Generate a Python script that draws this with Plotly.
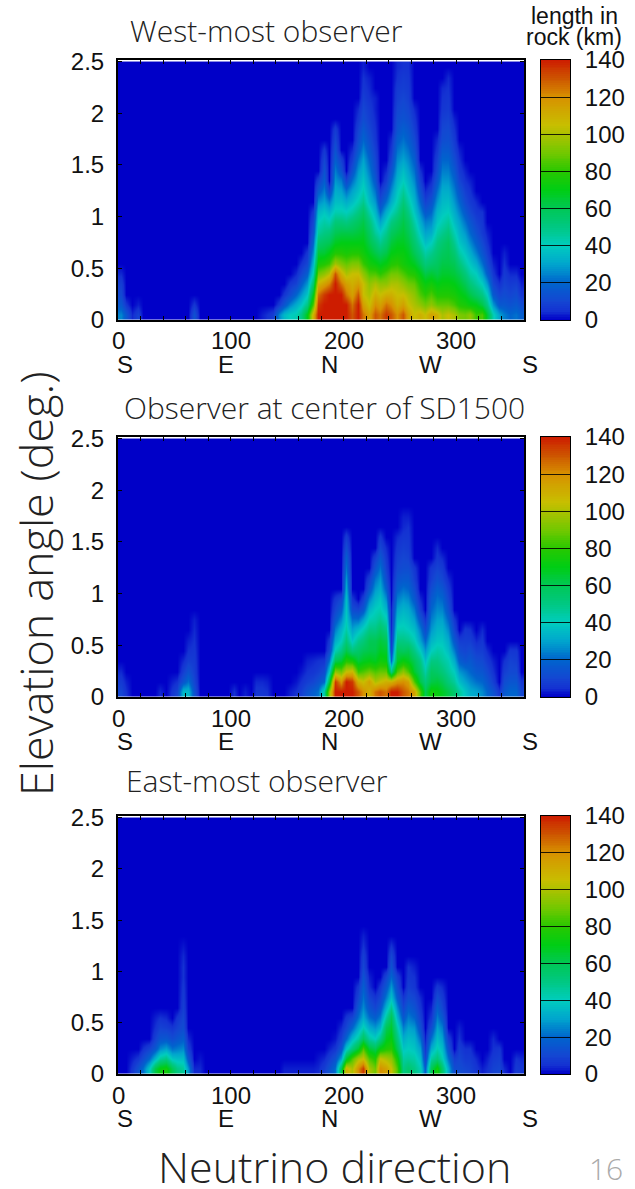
import plotly.graph_objects as go

W, H = 635, 1189
step_deg = 5
step_elev = 0.1
n_elev = 25
n_az = 72

# Keyed by the start of each 5 deg azimuth bin; each list holds km of rock
# from elevation 0 upward in 0.1 deg rows
west_cols = {
 0:[25,16,11,8,4], 5:[15,6], 10:[4], 15:[9,3], 65:[14,6],
 125:[3], 130:[5], 135:[8], 140:[25,7], 145:[35,15,6], 150:[40,25,12,6], 155:[42,32,20,9,4], 160:[50,38,28,18,10,5],
 165:[70,50,38,28,18,10,6],
 170:[110,85,70,55,42,34,26,20,14,10,6],
 175:[140,135,125,108,90,75,64,55,46,40,34,26,16,8],
 180:[140,140,135,115,95,78,65,58,50,44,38,30,24,18,14,10,6],
 185:[140,140,140,122,102,82,70,60,52,42,34,24,10],
 190:[140,140,140,140,130,98,78,68,60,52,42,36,32,28,24,18,14,10,7],
 195:[140,140,140,125,110,92,78,70,62,52,42,36,30,24,14,8],
 200:[140,140,125,115,100,88,76,70,62,50,40,32,22,10],
 205:[130,125,115,110,105,92,78,70,62,54,44,36,30,22,14,8,4],
 210:[140,140,130,115,105,92,78,70,64,58,50,42,36,32,28,22,16,12,9,6,4],
 215:[125,115,105,105,95,82,74,70,66,62,56,48,42,38,34,30,25,20,16,12,10,8,6,5,3],
 220:[115,105,100,95,85,75,68,62,58,52,44,36,32,28,24,20,16,13,10,8,7,5,4,3],
 225:[130,120,110,100,85,72,62,55,46,40,34,28,22,16,12,10,8,6,5,4,3,3],
 230:[125,115,105,95,80,68,58,48,40,30,20,12,6],
 235:[135,125,110,95,85,72,62,55,48,40,32,22,14,8,4],
 240:[130,120,110,100,90,78,70,64,58,50,40,32,26,20,14,9,6,4],
 245:[120,110,105,100,90,80,72,68,62,56,48,42,38,34,30,26,22,18,14,12,10,8,7,5,4],
 250:[130,115,105,95,85,75,72,68,65,62,58,52,46,40,36,30,26,22,18,14,12,10,8,7,5],
 255:[115,105,100,90,80,72,68,64,60,56,50,44,38,34,30,26,22,18,15,12,10,8,7,6,5],
 260:[105,100,95,88,78,68,60,55,50,44,38,34,30,26,22,18,14,11,8,6,4],
 265:[110,95,85,78,70,60,52,45,38,32,26,20,14,9,5],
 270:[105,90,80,72,62,52,44,36,30,24,16,9,4],
 275:[115,95,85,75,65,55,48,40,32,26,20,14,8,4],
 280:[110,88,78,70,62,58,54,50,44,38,34,28,22,16,12,9,6,4],
 285:[100,88,78,72,66,62,58,54,48,42,38,35,32,28,24,20,16,12,10,8,6,5,4],
 290:[105,88,78,72,66,62,60,58,52,46,40,36,32,28,24,20,16,13,11,9,7,6,5,4],
 295:[100,84,76,70,64,60,54,48,42,36,32,28,24,20,16,12,9,7,5,3],
 300:[92,78,72,66,60,52,44,38,34,30,25,20,15,10,7,5,3],
 305:[90,76,68,60,52,44,38,33,28,22,16,11,8,5,3],
 310:[95,72,62,52,44,38,32,26,20,15,10,7,5,3],
 315:[82,70,56,46,40,32,24,18,13,9,6,4],
 320:[85,62,50,40,30,22,15,11,7,6,5],
 325:[65,50,40,28,18,12,8,5,3],
 330:[42,28,16,10,6,3],
 335:[30,16,10,5],
 340:[24,16,12,9,7,5,3],
 345:[20,14,10,7,4],
 350:[22,16,12,8,4],
 355:[18,12,6,3],
}

center_cols = {
 0:[10,7,4], 5:[5,3], 35:[4], 45:[6,3], 50:[10,5], 55:[35,15,8,4], 60:[35,22,14,8,5,3], 65:[14,10,8,7,6,5,4,3],
 100:[5], 110:[3], 120:[6,4], 125:[6,4], 130:[5,3], 150:[3], 155:[5,2], 160:[8,5,2], 165:[14,8,5,3], 170:[18,10,6,4],
 175:[22,14,8,5], 180:[45,20,12,6],
 185:[95,62,38,22,10,6],
 190:[140,135,95,60,42,32,24,16,10,6],
 195:[140,118,90,65,50,40,34,26,18,10],
 200:[140,140,105,78,62,52,44,40,38,36,32,28,22,18,12,7],
 205:[140,135,108,75,52,38,30,22,12,6],
 210:[130,110,82,64,56,48,36,22,10],
 215:[120,105,85,68,60,52,42,30,16,8],
 220:[110,115,90,70,62,60,50,42,34,24,14,8],
 225:[125,100,85,68,62,60,50,44,40,34,28,22,14,8],
 230:[130,105,88,74,68,64,56,48,42,38,32,28,22,16,10,6],
 235:[125,110,88,72,66,60,50,42,34,26,18,12,8,6,4],
 240:[140,110,50,20,10,6,4,3,3],
 245:[140,118,85,66,60,50,42,36,30,24,18,14,10,8,6,4],
 250:[130,120,95,72,58,50,42,38,34,28,22,16,12,10,8,6,4,3],
 255:[125,115,85,68,60,48,40,36,32,26,20,16,12,9,7,6,5,3],
 260:[115,85,66,60,50,42,36,30,24,16,12,8,6],
 265:[85,62,56,50,40,30,24,16,8,4],
 270:[60,52,44,36,28,20,12,6],
 275:[75,62,58,50,40,34,28,24,20,16,12,8,6],
 280:[72,64,56,50,44,38,34,30,26,22,18,13,9,6,4],
 285:[68,60,52,46,42,38,34,30,25,20,15,10,7,4],
 290:[62,52,46,42,36,32,26,20,14,10,7,4],
 295:[55,46,40,32,24,16,10,6],
 300:[46,36,28,18,12,8],
 305:[38,30,24,14,10,8,6],
 310:[32,26,20,16,12,8,5],
 315:[30,22,16,12,8,4],
 320:[26,20,15,11,8,6,4],
 325:[20,15,11,7,4],
 330:[14,8,5,3],
 335:[6],
 340:[16,12,8,5],
 345:[20,15,11,9,6],
 350:[20,15,11,8,6],
 355:[10,6],
}

east_cols = {
 10:[6,3], 15:[14,6], 20:[22,12,5], 25:[38,20,9], 30:[62,34,16,9,5,3], 35:[72,46,26,15,9,5], 40:[75,50,30,16,8,4],
 45:[60,38,22,12,6], 50:[50,36,24,15,9,6], 55:[46,36,26,18,12,10,8,7,6,5,5,4,2], 60:[28,16,8,4], 65:[4], 70:[4,2],
 145:[3], 150:[3], 155:[3], 160:[3], 165:[3], 170:[3], 175:[4,2], 180:[8,4], 185:[14,8,3], 190:[22,14,6,2],
 195:[60,30,15,8,4],
 200:[110,65,38,20,10,6],
 205:[100,85,52,35,20,10],
 210:[120,100,65,45,32,22,16,10,6],
 215:[135,105,85,58,42,32,26,22,18,14,10,8,5,3],
 220:[100,85,65,45,32,22,15,10,5,3],
 225:[90,78,60,40,28,18,10,6],
 230:[120,105,72,50,34,24,16,10,6],
 235:[115,100,78,68,60,46,34,24,16,10],
 240:[105,95,80,72,66,60,48,36,28,20,14,10,5],
 245:[85,75,60,52,44,34,26,18,12,8],
 250:[50,45,38,32,24,16,10,6],
 255:[55,46,40,36,30,24,18,12,8,6,5],
 260:[50,44,38,34,28,20,14,10,6,5,3],
 265:[42,36,30,22,14,9,6,4],
 270:[18,10,6,3],
 275:[60,45,32,22,12,6,3],
 280:[75,52,42,36,30,24,18,12,6],
 285:[55,42,36,30,24,16,10,7,4],
 290:[32,22,14,8],
 295:[12,8],
 300:[12,10,8,5,3],
 305:[10,7,5],
 310:[9,7,5],
 315:[6,4],
 320:[3],
 325:[5,3],
 330:[9,7,5,4],
 335:[10,8,6],
 340:[4],
 350:[7,5],
 355:[6,4],
}

elev_ticks = [0, 0.5, 1, 1.5, 2, 2.5]
elev_labels = ["0", "0.5", "1", "1.5", "2", "2.5"]
azim_major = [0, 100, 200, 300]
azim_minor_step = 20
bar_ticks = [0, 20, 40, 60, 80, 100, 120, 140]
compass = ["S", "E", "N", "W", "S"]
compass_px = [125, 226, 329, 431, 530]
titles = ["West-most observer", "Observer at center of SD1500", "East-most observer"]
title_left = [128, 122, 124]
title_mid = [30, 407, 781]
stacks = [west_cols, center_cols, east_cols]
panels = [(60, 320), (437, 697), (816, 1074)]


def px(x):
    return x / W


def py(y):
    return 1 - y / H


colors = [
 [0/140, "rgb(0,0,200)"], [5/140, "rgb(20,50,210)"], [10/140, "rgb(20,70,210)"], [20/140, "rgb(0,100,205)"],
 [30/140, "rgb(0,165,205)"], [40/140, "rgb(0,205,190)"], [50/140, "rgb(0,200,130)"], [60/140, "rgb(0,200,85)"],
 [70/140, "rgb(0,205,20)"], [80/140, "rgb(40,200,0)"], [90/140, "rgb(115,200,0)"], [105/140, "rgb(200,190,0)"],
 [120/140, "rgb(215,145,0)"], [130/140, "rgb(205,85,0)"], [140/140, "rgb(205,28,0)"],
]

SANS = "Liberation Sans"
TXT = "Open Sans"
LIGHT = dict(family=TXT, color="#222", weight=300)
PLAIN = dict(family=SANS, size=24, color="#111")

fig = go.Figure()
xcent = [step_deg * (i + 0.5) for i in range(n_az)]
ycent = [step_elev * (j + 0.5) for j in range(n_elev)]
bar_levels = list(range(0, 141))

annotations = []
for k, (cols, (top, bot)) in enumerate(zip(stacks, panels)):
    z = [[0] * n_az for _ in range(n_elev)]
    for az, values in cols.items():
        for j, v in enumerate(values):
            z[j][az // step_deg] = v
    a = 2 * k + 1
    b = 2 * k + 2
    ax, bx = ("" if a == 1 else str(a)), str(b)
    fig.add_trace(go.Heatmap(
        x=xcent, y=ycent, z=z, xaxis="x" + ax, yaxis="y" + ax, zmin=0, zmax=140,
        zsmooth="best", colorscale=colors, hoverinfo="skip", showscale=False,
    ))
    # Colour key, drawn on its own axes so that it sits exactly beside the panel
    fig.add_trace(go.Heatmap(
        x=[0, 1], y=bar_levels, z=[[v, v] for v in bar_levels], xaxis="x" + bx, yaxis="y" + bx,
        zmin=0, zmax=140, colorscale=colors, hoverinfo="skip", showscale=False,
    ))
    xa = dict(domain=[px(118), px(524)], range=[0, 360], anchor="y" + ax, mirror="allticks", automargin=False,
              showline=True, linecolor="black", linewidth=2, ticks="inside", ticklen=4,
              tickcolor="black", tickmode="linear", tick0=0, dtick=azim_minor_step,
              showticklabels=False, showgrid=False, zeroline=False)
    ya = dict(domain=[py(bot), py(top)], range=[0, 2.515], anchor="x" + ax, mirror="allticks", automargin=False,
              showline=True, linecolor="black", linewidth=2, ticks="inside", ticklen=4,
              tickcolor="black", tickmode="array", tickvals=elev_ticks, ticktext=elev_labels,
              ticklabelstandoff=7, tickfont=PLAIN, showgrid=False, zeroline=False)
    xb = dict(domain=[px(541), px(570)], range=[0, 1], anchor="y" + bx, showticklabels=False, ticks="",
              automargin=False, showgrid=False, zeroline=False, showline=True, mirror=True,
              linecolor="black", linewidth=1)
    yb = dict(domain=[py(bot), py(top)], range=[0, 140], anchor="x" + bx, side="right", showline=True,
              automargin=False, mirror=True, linecolor="black", linewidth=1, ticks="inside", ticklen=29,
              tickwidth=1, tickcolor="rgba(0,0,0,0.85)", tickmode="array", tickvals=bar_ticks,
              ticktext=[str(v) for v in bar_ticks], ticklabelstandoff=9, tickfont=PLAIN,
              showgrid=False, zeroline=False)
    fig.update_layout(**{"xaxis" + ax: xa, "yaxis" + ax: ya, "xaxis" + bx: xb, "yaxis" + bx: yb})

    for v in azim_major:
        annotations.append(dict(xref="x" + ax, yref="paper", x=v, y=py(bot + 21), text=str(v),
                                showarrow=False, xanchor="center", yanchor="middle", font=PLAIN))
    for lab, p in zip(compass, compass_px):
        annotations.append(dict(xref="paper", yref="paper", x=px(p), y=py(bot + 44), text=lab,
                                showarrow=False, xanchor="center", yanchor="middle", font=PLAIN))
    annotations.append(dict(xref="paper", yref="paper", x=px(title_left[k]), y=py(title_mid[k]),
                            text=titles[k], showarrow=False, xanchor="left", yanchor="middle",
                            font=dict(size=30, **LIGHT)))

annotations += [
    dict(xref="paper", yref="paper", x=px(574), y=py(16), text="length in", showarrow=False,
         xanchor="center", yanchor="middle", font=dict(family=SANS, size=23, color="#111")),
    dict(xref="paper", yref="paper", x=px(574), y=py(37), text="rock (km)", showarrow=False,
         xanchor="center", yanchor="middle", font=dict(family=SANS, size=23, color="#111")),
    dict(xref="paper", yref="paper", x=px(36), y=py(584), text="Elevation angle (deg.)", textangle=-90,
         showarrow=False, xanchor="center", yanchor="middle", font=dict(size=45, **LIGHT)),
    dict(xref="paper", yref="paper", x=px(334), y=py(1166), text="Neutrino direction", showarrow=False,
         xanchor="center", yanchor="middle", font=dict(size=43, **LIGHT)),
    dict(xref="paper", yref="paper", x=px(606), y=py(1168), text="16", showarrow=False,
         xanchor="center", yanchor="middle", font=dict(family=TXT, size=30, color="#aaaaaa", weight=300)),
]

fig.update_layout(width=W, height=H, autosize=False, margin=dict(l=0, r=0, t=0, b=0),
                  paper_bgcolor="white", plot_bgcolor="white", annotations=annotations, showlegend=False)
fig.write_html("out.html", config={"displayModeBar": False},
               post_script="document.body.style.margin='0';document.documentElement.style.overflow='hidden';")
